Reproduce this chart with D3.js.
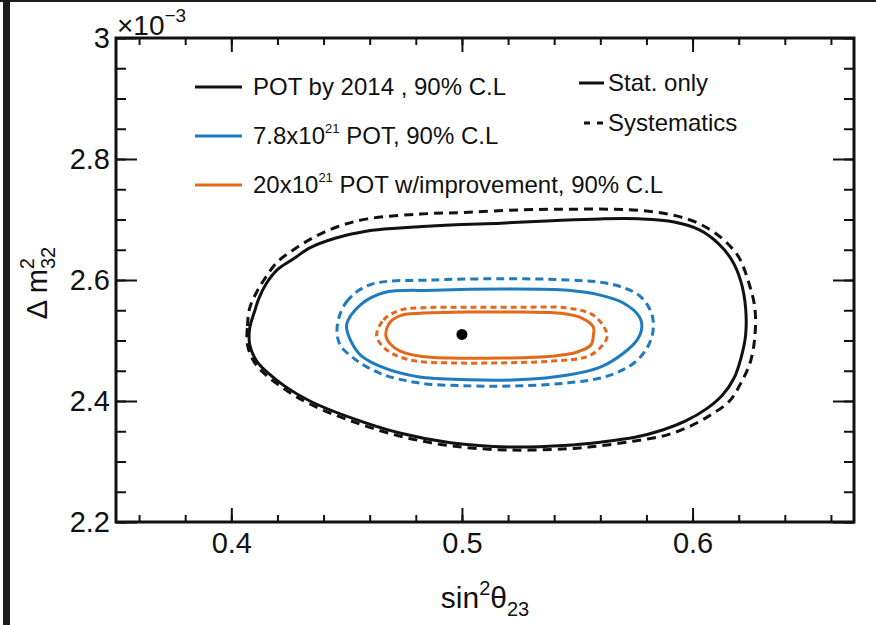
<!DOCTYPE html>
<html>
<head>
<meta charset="utf-8">
<script src="https://cdn.jsdelivr.net/npm/d3@7"></script>
<style>
  html, body { margin: 0; padding: 0; background: #fff; }
  svg { display: block; font-family: "Liberation Sans", Arial, sans-serif; }
</style>
</head>
<body>
<div id="root"></div>
<script>
// contours, x = sin^2(theta23), y = dm^2_32 in units of 1e-3
var blackStat = [
  [0.408, 2.493], [0.408, 2.521], [0.410, 2.547], [0.412, 2.570], [0.415, 2.593],
  [0.420, 2.617], [0.427, 2.635], [0.434, 2.653], [0.445, 2.669], [0.459, 2.681],
  [0.473, 2.686], [0.495, 2.691], [0.517, 2.694], [0.539, 2.698], [0.560, 2.701],
  [0.578, 2.701], [0.592, 2.696], [0.603, 2.683], [0.611, 2.661], [0.617, 2.633],
  [0.621, 2.597], [0.623, 2.554], [0.623, 2.509], [0.621, 2.471], [0.618, 2.438],
  [0.613, 2.410], [0.606, 2.387], [0.597, 2.367], [0.587, 2.352], [0.575, 2.340],
  [0.560, 2.332], [0.546, 2.327], [0.520, 2.324], [0.495, 2.331], [0.473, 2.347],
  [0.452, 2.372], [0.434, 2.400], [0.423, 2.425], [0.416, 2.446], [0.411, 2.466]
];
var blackSyst = [
  [0.407, 2.493], [0.407, 2.524], [0.408, 2.554], [0.411, 2.580], [0.415, 2.605],
  [0.420, 2.630], [0.427, 2.650], [0.435, 2.669], [0.446, 2.688], [0.459, 2.701],
  [0.482, 2.709], [0.503, 2.712], [0.526, 2.716], [0.546, 2.717], [0.565, 2.717],
  [0.580, 2.714], [0.593, 2.706], [0.604, 2.691], [0.613, 2.668], [0.620, 2.638],
  [0.624, 2.600], [0.627, 2.554], [0.627, 2.506], [0.625, 2.464], [0.621, 2.430],
  [0.616, 2.400], [0.607, 2.375], [0.597, 2.355], [0.587, 2.342], [0.575, 2.334],
  [0.560, 2.326], [0.546, 2.321], [0.520, 2.319], [0.495, 2.326], [0.473, 2.342],
  [0.452, 2.367], [0.434, 2.395], [0.423, 2.420], [0.415, 2.443], [0.410, 2.464]
];
var blueStat = [
  [0.450, 2.526], [0.456, 2.559], [0.466, 2.579], [0.488, 2.583], [0.517, 2.585],
  [0.546, 2.583], [0.560, 2.575], [0.570, 2.562], [0.577, 2.539], [0.578, 2.522],
  [0.576, 2.501], [0.570, 2.479], [0.560, 2.456], [0.546, 2.443], [0.524, 2.435],
  [0.503, 2.435], [0.481, 2.440], [0.466, 2.455], [0.456, 2.476], [0.452, 2.498]
];
var blueSyst = [
  [0.446, 2.526], [0.450, 2.564], [0.460, 2.592], [0.488, 2.600], [0.517, 2.602],
  [0.546, 2.600], [0.565, 2.593], [0.577, 2.574], [0.582, 2.547], [0.583, 2.521],
  [0.581, 2.493], [0.575, 2.464], [0.563, 2.441], [0.546, 2.430], [0.524, 2.425],
  [0.503, 2.425], [0.481, 2.430], [0.465, 2.445], [0.454, 2.468], [0.447, 2.494]
];
var orangeStat = [
  [0.467, 2.509], [0.469, 2.531], [0.474, 2.542], [0.482, 2.545], [0.503, 2.547],
  [0.526, 2.547], [0.543, 2.545], [0.552, 2.537], [0.557, 2.522], [0.557, 2.509],
  [0.556, 2.493], [0.550, 2.481], [0.539, 2.474], [0.517, 2.471], [0.495, 2.471],
  [0.482, 2.474], [0.473, 2.483], [0.469, 2.494]
];
var orangeSyst = [
  [0.463, 2.509], [0.466, 2.534], [0.473, 2.550], [0.482, 2.554], [0.503, 2.555],
  [0.526, 2.555], [0.545, 2.554], [0.556, 2.544], [0.561, 2.526], [0.563, 2.507],
  [0.560, 2.488], [0.554, 2.473], [0.539, 2.466], [0.517, 2.463], [0.495, 2.463],
  [0.480, 2.466], [0.470, 2.478], [0.465, 2.493]
];
var bestFit = [0.5, 2.51];

var xDomain = [0.35, 0.67];
var yDomain = [2.2, 3.0];
var xMajor = [0.4, 0.5, 0.6];
var xMinor = d3.range(0.36, 0.665, 0.02);
var yMajor = [2.2, 2.4, 2.6, 2.8, 3.0];
var yMinor = d3.range(2.2, 3.001, 0.05);

var legendLabels = [
  { pre: "POT by 2014 , 90% C.L", sup: "", post: "" },
  { pre: "7.8x10", sup: "21", post: " POT, 90% C.L" },
  { pre: "20x10", sup: "21", post: " POT w/improvement, 90% C.L" }
];
var styleLabels = ["Stat. only", "Systematics"];

var colors = { black: "#111111", blue: "#1f7ac0", orange: "#e2681b" };

var width = 876, height = 625;
var margin = { left: 116, right: 22, top: 38, bottom: 103 };

var svg = d3.select("#root").append("svg")
  .attr("width", width)
  .attr("height", height);

// dark edge of the original screenshot
svg.append("rect").attr("x", 3).attr("y", 0).attr("width", 7).attr("height", height).attr("fill", "#1c1c1c");
svg.append("rect").attr("x", 0).attr("y", 0).attr("width", width).attr("height", 2).attr("fill", "#1c1c1c");

var x = d3.scaleLinear().domain(xDomain).range([margin.left, width - margin.right]);
var y = d3.scaleLinear().domain(yDomain).range([height - margin.bottom, margin.top]);

var line = d3.line()
  .x(function(d){ return x(d[0]); })
  .y(function(d){ return y(d[1]); })
  .curve(d3.curveCatmullRomClosed.alpha(0.5));

var contours = [
  { data: blackSyst, color: colors.black, dash: "9,6" },
  { data: blackStat, color: colors.black, dash: null },
  { data: blueSyst, color: colors.blue, dash: "8,5" },
  { data: blueStat, color: colors.blue, dash: null },
  { data: orangeSyst, color: colors.orange, dash: "6,4" },
  { data: orangeStat, color: colors.orange, dash: null }
];

svg.selectAll(".contour")
  .data(contours)
  .enter()
  .append("path")
  .attr("class", "contour")
  .attr("d", function(d){ return line(d.data); })
  .attr("fill", "none")
  .attr("stroke", function(d){ return d.color; })
  .attr("stroke-width", 3)
  .attr("stroke-dasharray", function(d){ return d.dash; });

svg.append("circle")
  .attr("cx", x(bestFit[0]))
  .attr("cy", y(bestFit[1]))
  .attr("r", 5.5)
  .attr("fill", "#000");

// axes, ticks point inwards like ROOT
var plotW = width - margin.left - margin.right,
    plotH = height - margin.top - margin.bottom;
var fmt = function(d){ return d === 3 ? "3" : d3.format(".1f")(d); };

function styleAxis(g){
  g.select(".domain").remove();
  g.selectAll("line").attr("stroke", "#111").attr("stroke-width", 2);
  g.selectAll("text").attr("font-family", "Liberation Sans, Arial, sans-serif")
    .attr("font-size", 29).attr("fill", "#111");
}

var bottom = height - margin.bottom, right = width - margin.right;

svg.append("g").attr("transform", "translate(0," + bottom + ")")
  .call(d3.axisBottom(x).tickValues(xMinor).tickSize(-7).tickFormat(""))
  .call(styleAxis);
svg.append("g").attr("transform", "translate(0," + bottom + ")")
  .call(d3.axisBottom(x).tickValues(xMajor).tickSize(-14).tickPadding(10).tickFormat(d3.format(".1f")))
  .call(styleAxis);
svg.append("g").attr("transform", "translate(0," + margin.top + ")")
  .call(d3.axisTop(x).tickValues(xMinor).tickSize(-7).tickFormat(""))
  .call(styleAxis);
svg.append("g").attr("transform", "translate(0," + margin.top + ")")
  .call(d3.axisTop(x).tickValues(xMajor).tickSize(-14).tickFormat(""))
  .call(styleAxis);

svg.append("g").attr("transform", "translate(" + margin.left + ",0)")
  .call(d3.axisLeft(y).tickValues(yMinor).tickSize(-10).tickFormat(""))
  .call(styleAxis);
svg.append("g").attr("transform", "translate(" + margin.left + ",0)")
  .call(d3.axisLeft(y).tickValues(yMajor).tickSize(-21).tickPadding(6).tickFormat(fmt))
  .call(styleAxis);
svg.append("g").attr("transform", "translate(" + right + ",0)")
  .call(d3.axisRight(y).tickValues(yMinor).tickSize(-10).tickFormat(""))
  .call(styleAxis);
svg.append("g").attr("transform", "translate(" + right + ",0)")
  .call(d3.axisRight(y).tickValues(yMajor).tickSize(-21).tickFormat(""))
  .call(styleAxis);

svg.append("rect")
  .attr("x", margin.left).attr("y", margin.top)
  .attr("width", plotW).attr("height", plotH)
  .attr("fill", "none").attr("stroke", "#111").attr("stroke-width", 3);

// x10^-3 multiplier
var mult = svg.append("text").attr("x", margin.left + 1).attr("y", 35)
  .attr("font-size", 28).attr("fill", "#111");
mult.append("tspan").text("\u00d710");
mult.append("tspan").attr("font-size", 19).attr("dy", -13).text("\u22123");

// axis titles
var xt = svg.append("text")
  .attr("x", margin.left + plotW / 2).attr("y", 608)
  .attr("text-anchor", "middle").attr("font-size", 30).attr("fill", "#111");
xt.append("tspan").text("sin");
xt.append("tspan").attr("font-size", 20).attr("dy", -13).text("2");
xt.append("tspan").attr("dy", 13).text("\u03b8");
xt.append("tspan").attr("font-size", 20).attr("dy", 8).text("23");

var yt = svg.append("text")
  .attr("transform", "translate(47,283) rotate(-90)")
  .attr("text-anchor", "middle").attr("font-size", 29).attr("fill", "#111");
yt.append("tspan").text("\u0394 m");
yt.append("tspan").attr("font-size", 20).attr("dy", -13).text("2");
yt.append("tspan").attr("font-size", 20).attr("dx", -11).attr("dy", 21).text("32");

// legend, left block
var legRows = [87, 136, 185];
var legColors = [colors.black, colors.blue, colors.orange];
var leg = svg.append("g").attr("class", "legend");
legendLabels.forEach(function(l, i){
  leg.append("line")
    .attr("x1", 195).attr("x2", 242).attr("y1", legRows[i]).attr("y2", legRows[i])
    .attr("stroke", legColors[i]).attr("stroke-width", 3);
  var t = leg.append("text").attr("x", 253).attr("y", legRows[i] + 8)
    .attr("font-size", 24).attr("fill", "#111");
  t.append("tspan").text(l.pre);
  if (l.sup){
    t.append("tspan").attr("font-size", 13).attr("dy", -11).text(l.sup);
    t.append("tspan").attr("dy", 11).text(l.post);
  }
});

// legend, line style block
var styleRows = [83, 123];
styleLabels.forEach(function(s, i){
  leg.append("line")
    .attr("x1", i ? 584 : 579).attr("x2", i ? 603 : 604).attr("y1", styleRows[i]).attr("y2", styleRows[i])
    .attr("stroke", "#111").attr("stroke-width", 3)
    .attr("stroke-dasharray", i ? "6,7" : null);
  leg.append("text").attr("x", 608).attr("y", styleRows[i] + 8)
    .attr("font-size", 24).attr("fill", "#111").text(s);
});
</script>
</body>
</html>
